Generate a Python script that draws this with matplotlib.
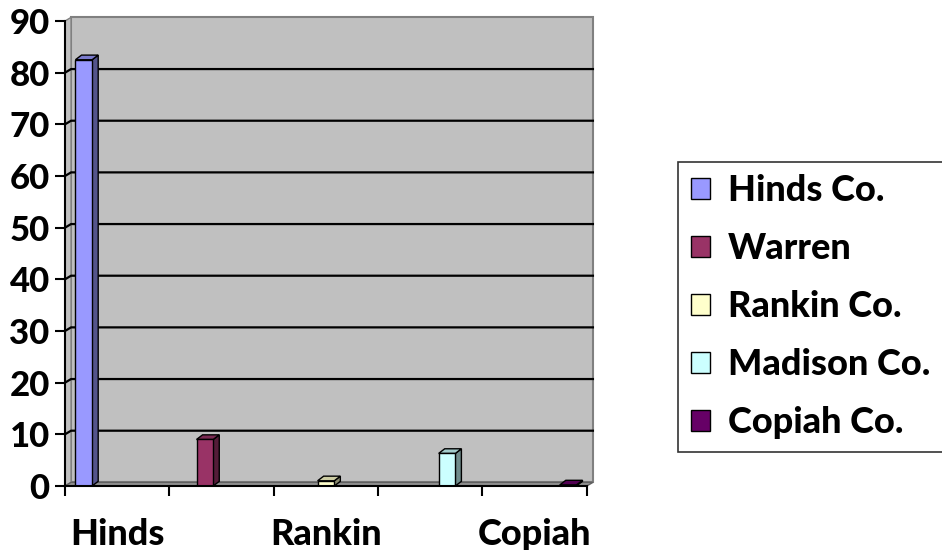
import matplotlib.pyplot as plt
from matplotlib.patches import Polygon
import matplotlib.colors as mcolors

# categories along the x axis
categories = ["Hinds", "Warren", "Rankin", "Madison", "Copiah"]
# one series per county, each with a value only in its own category
series_names = ["Hinds Co.", "Warren", "Rankin Co.", "Madison Co.", "Copiah Co."]
hinds = [82.5, 0, 0, 0, 0]
warren = [0, 9, 0, 0, 0]
rankin = [0, 0, 1, 0, 0]
madison = [0, 0, 0, 6.3, 0]
copiah = [0, 0, 0, 0, 0.2]
series_values = [hinds, warren, rankin, madison, copiah]
colors = ["#9999FF", "#993366", "#FFFFCC", "#CCFFFF", "#660066"]
yticks = [0, 10, 20, 30, 40, 50, 60, 70, 80, 90]

plt.rcParams['font.family'] = ['Lato', 'DejaVu Sans']
plt.rcParams['font.weight'] = 'black'

fig = plt.figure(figsize=(9.42, 5.5), dpi=100)
ax = fig.add_axes([0.069, 0.1164, 0.554, 0.8454])
ax.set_xlim(-0.5, 4.5)
ax.set_ylim(0, 90)
ax.set_facecolor('none')

# 3d depth offsets (data units)
dx = 0.058
dy_wall = 0.7
dy_bar = 0.9

# back wall, left wall and floor
wall = Polygon([(-0.5 + dx, dy_wall), (4.5 + dx, dy_wall), (4.5 + dx, 90 + dy_wall), (-0.5 + dx, 90 + dy_wall)],
               closed=True, facecolor="#C0C0C0", edgecolor="#808080", lw=1.5, clip_on=False, zorder=0)
ax.add_patch(wall)
side = Polygon([(-0.5, 0), (-0.5 + dx, dy_wall), (-0.5 + dx, 90 + dy_wall), (-0.5, 90)],
               closed=True, facecolor="#C0C0C0", edgecolor="#808080", lw=1, clip_on=False, zorder=0.5)
ax.add_patch(side)
floor = Polygon([(-0.5, 0), (4.5, 0), (4.5 + dx, dy_wall), (-0.5 + dx, dy_wall)],
                closed=True, facecolor="#909090", edgecolor="#606060", lw=1, clip_on=False, zorder=0.6)
ax.add_patch(floor)

# gridlines on the walls
for v in yticks[1:-1]:
    ax.plot([-0.5, -0.5 + dx, 4.5 + dx], [v, v + dy_wall, v + dy_wall], color="black", lw=1.6,
            clip_on=False, zorder=1)

# clustered bars
width = 0.16
handles = []
for i, (vals, col) in enumerate(zip(series_values, colors)):
    offset = (i - 2) * width
    xs = [k + offset for k in range(len(categories))]
    rgb = mcolors.to_rgb(col)
    dark = tuple(c * 0.55 for c in rgb)
    mid = tuple(c * 0.8 for c in rgb)
    for x, v in zip(xs, vals):
        if v <= 0:
            continue
        x0, x1 = x - width / 2, x + width / 2
        ax.add_patch(Polygon([(x1, 0), (x1 + dx, dy_bar), (x1 + dx, v + dy_bar), (x1, v)], closed=True,
                             facecolor=dark, edgecolor="black", lw=1, zorder=2, clip_on=False))
        ax.add_patch(Polygon([(x0, v), (x0 + dx, v + dy_bar), (x1 + dx, v + dy_bar), (x1, v)], closed=True,
                             facecolor=mid, edgecolor="black", lw=1, zorder=2, clip_on=False))
    h = ax.bar([x for x, v in zip(xs, vals) if v > 0], [v for v in vals if v > 0], width=width,
               color=col, edgecolor="black", lw=1, zorder=3, label=series_names[i])
    handles.append(h)

# axes
for s in ["top", "right"]:
    ax.spines[s].set_visible(False)
ax.spines["left"].set_linewidth(1.5)
ax.spines["bottom"].set_linewidth(1.5)
ax.spines["left"].set_zorder(4)
ax.spines["bottom"].set_zorder(4)

ax.set_yticks(yticks)
ax.tick_params(axis='y', length=7, width=1.5, pad=4, labelsize=25)
ax.set_xticks([-0.5, 0.5, 1.5, 2.5, 3.5, 4.5])
ax.set_xticklabels([])
ax.tick_params(axis='x', which='major', length=7, width=1.5)
ax.set_xticks([0, 2, 4], minor=True)
ax.set_xticklabels([categories[0], categories[2], categories[4]], minor=True)
ax.tick_params(axis='x', which='minor', length=0, pad=23, labelsize=26)

leg = fig.legend(handles=handles, loc='upper left', bbox_to_anchor=(0.7197, 0.706), fontsize=26,
                 frameon=True, fancybox=False, edgecolor="black", handlelength=0.53, handleheight=0.53,
                 handletextpad=0.5, labelspacing=0.69, borderpad=0.35, borderaxespad=0)
leg.get_frame().set_linewidth(1.2)

plt.savefig("out.png", dpi=100)
